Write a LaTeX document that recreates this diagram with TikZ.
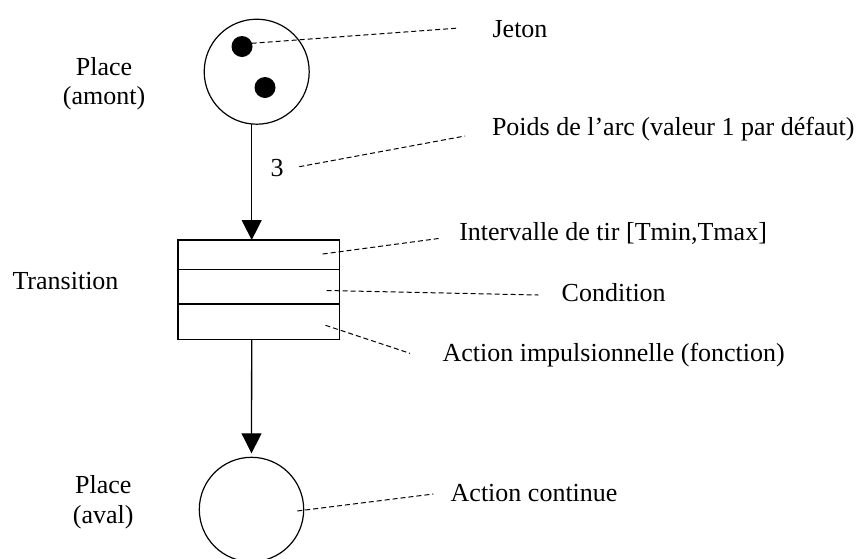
\documentclass[tikz,border=0pt]{standalone}
\usepackage{fontspec}
\setmainfont{Liberation Serif}
\usetikzlibrary{arrows.meta}
\begin{document}
\begin{tikzpicture}[x=1pt,y=-1pt,
  every node/.style={inner sep=0pt,outer sep=0pt,font=\fontsize{26}{30}\selectfont},
  place/.style={draw,circle,line width=1.2pt,minimum size=#1},
  token/.style={fill=black,circle,minimum size=21pt},
  tbox/.style={draw,rectangle,line width=1.3pt,minimum width=161.7pt,minimum height=99.7pt},
  arr/.style={line width=1.3pt,-{Triangle[length=20pt,width=20pt]}},
  lead/.style={line width=1pt,dash pattern=on 5pt off 3pt},
  lbl/.style={anchor=base west},
  clbl/.style={anchor=base}]
\useasboundingbox (0,0) rectangle (865,558);
% places and transition
\node[place=105pt] (p1) at (256.7,71.7) {};
\node[token] (t1) at (242,46.5) {};
\node[token] (t2) at (265,87.5) {};
\node[tbox] (tr) at (258.85,289.85) {};
\node[place=104.4pt] (p2) at (251.5,509.5) {};
\coordinate (ax) at (251.7,0);
\coordinate (d1a) at (178,269.3);
\coordinate (d1b) at (339.7,269.3);
\coordinate (d2a) at (178,304);
\coordinate (d2b) at (339.7,304);
\draw[line width=1.3pt] (d1a) -- (d1b);
\draw[line width=1.3pt] (d2a) -- (d2b);
% arcs
\draw[arr] (p1.south -| ax) -- (tr.north -| ax);
\draw[arr,shorten >=4pt] (tr.south -| ax) -- (p2.north);
% labels
\node[clbl] (pl1) at (104,75) {Place};
\node[clbl] (pl2) at (104,104) {(amont)};
\node[clbl] (trl) at (65.5,289) {Transition};
\node[clbl] (pl3) at (103.3,493.3) {Place};
\node[clbl] (pl4) at (103.3,523.3) {(aval)};
\node[clbl] (w) at (277,176.7) {3};
\node[lbl] (jet) at (492.6,37.5) {Jeton};
\node[lbl] (poi) at (492,135) {Poids de l’arc (valeur 1 par défaut)};
\node[lbl] (itv) at (459.3,240) {Intervalle de tir [Tmin,Tmax]};
\node[lbl] (cnd) at (561.7,301) {Condition};
\node[lbl] (aip) at (442.5,361) {Action impulsionnelle (fonction)};
\node[lbl] (acn) at (450.7,501) {Action continue};
% leader lines
\coordinate (j1) at (251.7,43.3);  \coordinate (j2) at (459,28);
\coordinate (w1) at (299.3,166.7); \coordinate (w2) at (465,136);
\coordinate (i1) at (322.7,254);   \coordinate (i2) at (440,238.3);
\coordinate (c1) at (326.7,290.5); \coordinate (c2) at (538.3,295);
\coordinate (a1) at (325.5,325.3); \coordinate (a2) at (410,353.3);
\coordinate (k1) at (297.3,511);   \coordinate (k2) at (433.3,494);
\draw[lead] (j1) -- (j2);
\draw[lead] (w1) -- (w2);
\draw[lead] (i1) -- (i2);
\draw[lead] (c1) -- (c2);
\draw[lead] (a1) -- (a2);
\draw[lead] (k1) -- (k2);
\end{tikzpicture}
\end{document}
